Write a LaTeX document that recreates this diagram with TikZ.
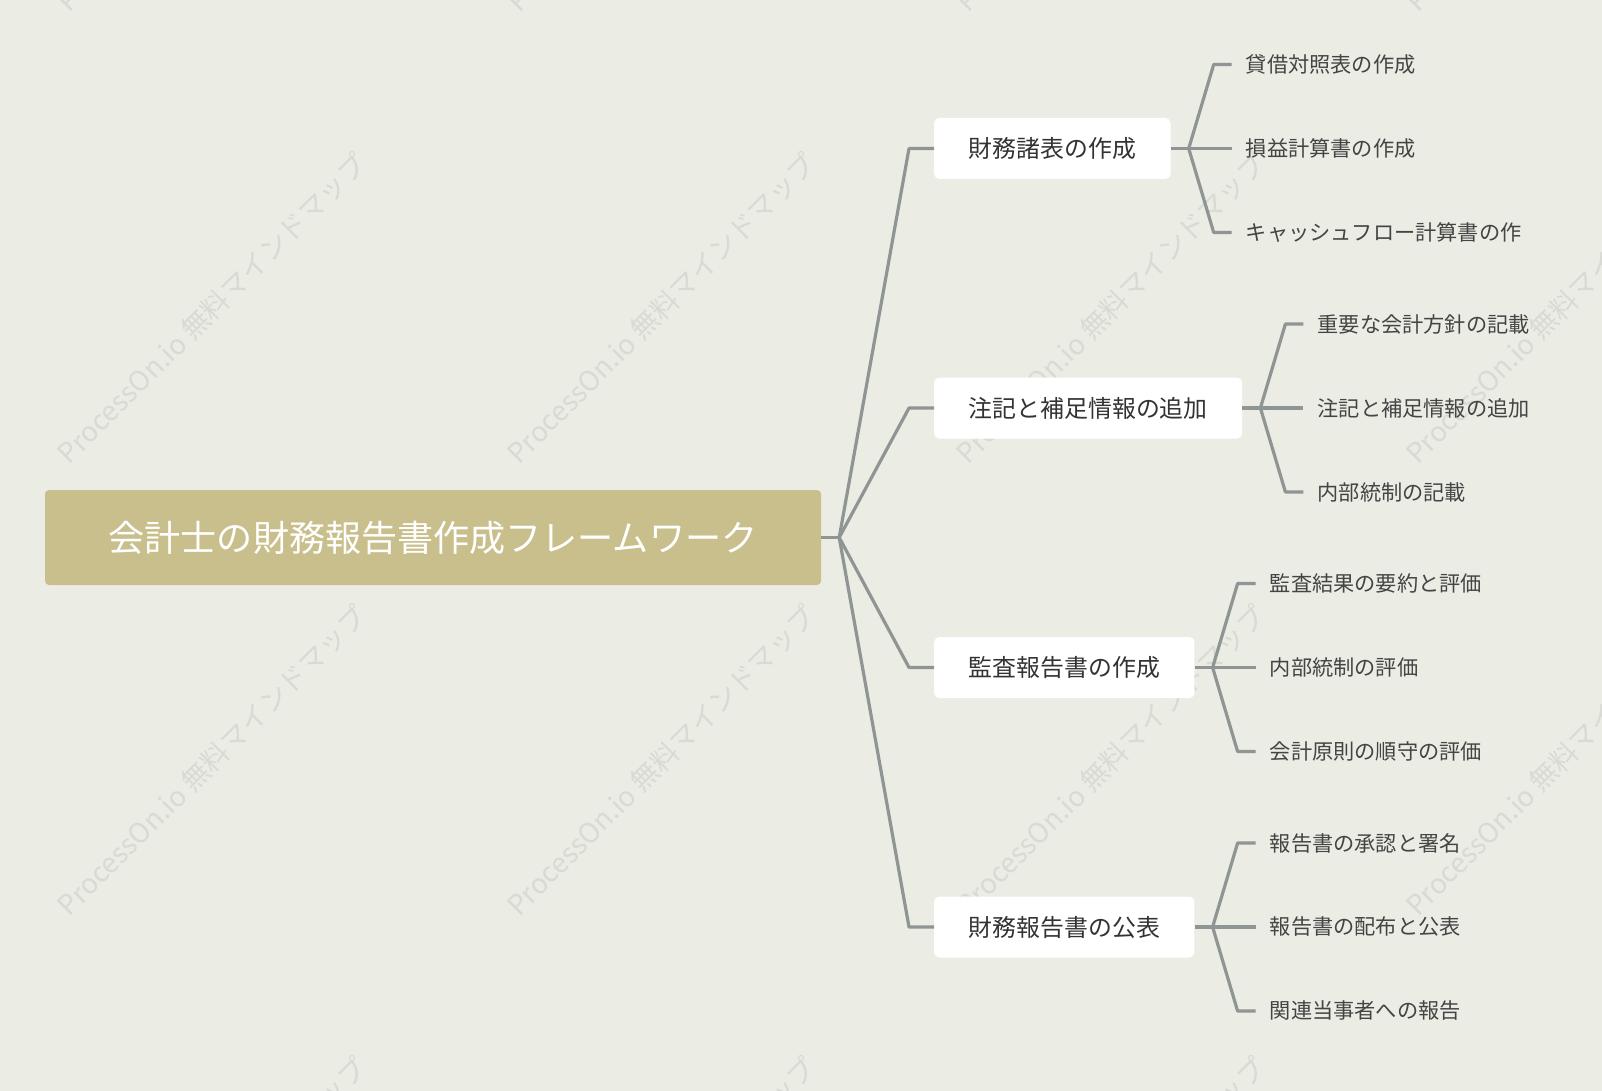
\documentclass[tikz,border=0pt]{standalone}
\usepackage{fontspec}
\setmainfont{Noto Sans CJK JP}
\usepackage{xcolor}
\usetikzlibrary{positioning,calc}
\definecolor{bgcol}{RGB}{235,236,228}
\definecolor{rootcol}{RGB}{201,191,141}
\definecolor{linkcol}{RGB}{143,148,148}
\definecolor{wmcol}{RGB}{218,218,212}
\definecolor{boxtext}{RGB}{51,51,51}
\definecolor{leaftext}{RGB}{68,68,68}

\begin{document}
\begin{tikzpicture}[
    x=1pt, y=-1pt,
    root/.style={fill=rootcol, rounded corners=4pt, text=white, minimum width=776pt, minimum height=95pt, inner sep=0, font=\fontsize{36.1}{40}\selectfont},
    branch/.style={fill=white, rounded corners=5pt, anchor=west, minimum height=61pt, inner xsep=34.5pt, inner ysep=0, text=boxtext, font=\fontsize{23.9}{28}\selectfont},
    leaf/.style={anchor=west, inner sep=0, text=leaftext, font=\fontsize{21.2}{24}\selectfont},
    link/.style={draw=linkcol, line width=3.2pt},
    wmark/.style={rotate=45, text=wmcol, font=\fontsize{27.6}{30}\selectfont}]

\path[use as bounding box, fill=bgcol] (0,0) rectangle (1602,1091);
\clip (0,0) rectangle (1602,1091);

% watermark
\foreach \i in {0,...,3}
  \foreach \j in {0,...,3}
    \node[wmark] at (212+449.5*\i, -143.5+452*\j) {ProcessOn.io 無料マインドマップ};

% root and main topics
\node[root] (root) at (433,537.5) {会計士の財務報告書作成フレームワーク};

\node[branch] (b1) at (934,148.5) {財務諸表の作成};
\node[branch] (b2) at (934,408) {注記と補足情報の追加};
\node[branch] (b3) at (934,667.5) {監査報告書の作成};
\node[branch] (b4) at (934,927) {財務報告書の公表};

\draw[link] (root.east) -- ++(18,0) coordinate (rj);
\foreach \b in {b1,b2,b3,b4}
  \draw[link, line join=round] (rj) -- ($(\b.west)+(-25,0)$) -- (\b.west);

% subtopics
\node[leaf] (l11) at ($(b1.east)+(75,-84)$) {貸借対照表の作成};
\node[leaf] (l12) at ($(b1.east)+(75,0)$) {損益計算書の作成};
\node[leaf] (l13) at ($(b1.east)+(75,84)$) {キャッシュフロー計算書の作};

\node[leaf] (l21) at ($(b2.east)+(75,-84)$) {重要な会計方針の記載};
\node[leaf] (l22) at ($(b2.east)+(75,0)$) {注記と補足情報の追加};
\node[leaf] (l23) at ($(b2.east)+(75,84)$) {内部統制の記載};

\node[leaf] (l31) at ($(b3.east)+(75,-84)$) {監査結果の要約と評価};
\node[leaf] (l32) at ($(b3.east)+(75,0)$) {内部統制の評価};
\node[leaf] (l33) at ($(b3.east)+(75,84)$) {会計原則の順守の評価};

\node[leaf] (l41) at ($(b4.east)+(75,-84)$) {報告書の承認と署名};
\node[leaf] (l42) at ($(b4.east)+(75,0)$) {報告書の配布と公表};
\node[leaf] (l43) at ($(b4.east)+(75,84)$) {関連当事者への報告};

\foreach \b in {1,2,3,4} {
  \draw[link] (b\b.east) -- ++(18,0) coordinate (j\b);
  \foreach \l in {1,2,3}
    \draw[link, line join=round] (j\b) -- ($(l\b\l.west)+(-32,0)$) -- ($(l\b\l.west)+(-14,0)$);
}

\end{tikzpicture}
\end{document}
